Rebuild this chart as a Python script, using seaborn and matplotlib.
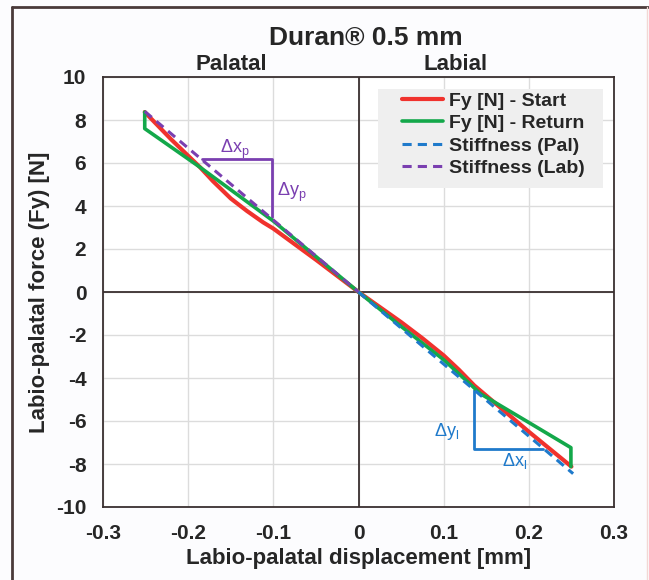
import numpy as np
import pandas as pd
import seaborn as sns
import matplotlib
matplotlib.use("Agg")
import matplotlib.pyplot as plt
from matplotlib.lines import Line2D
from matplotlib.patches import Rectangle

# ---- data ----
start_x = [-0.251, -0.22, -0.186, -0.171, -0.15, -0.131, -0.112, -0.1, -0.05, 0.0,
           0.05, 0.075, 0.1, 0.118, 0.136, 0.2, 0.25]
start_y = [8.37, 7.1, 5.8, 5.16, 4.35, 3.77, 3.24, 2.95, 1.5, 0.0,
           -1.4, -2.15, -2.95, -3.62, -4.35, -6.5, -8.12]

return_x = [-0.251, -0.251, -0.186, -0.1, -0.05, 0.0, 0.05, 0.1, 0.1435, 0.2, 0.2494, 0.2494]
return_y = [8.37, 7.6, 5.8, 3.3, 1.65, 0.0, -1.6, -3.15, -4.74, -6.07, -7.24, -8.12]

pal_x = [0.0, 0.252]
pal_y = [0.0, -8.45]
lab_x = [-0.251, 0.0]
lab_y = [8.4, 0.0]

# annotation triangles
tri_p_x = [-0.184, -0.102, -0.102]
tri_p_y = [6.2, 6.2, 3.5]
tri_l_x = [0.136, 0.136, 0.217]
tri_l_y = [-4.58, -7.32, -7.32]

x_ticks = [-0.3, -0.2, -0.1, 0, 0.1, 0.2, 0.3]
x_ticklabels = ["-0.3", "-0.2", "-0.1", "0", "0.1", "0.2", "0.3"]
y_ticks = [-10, -8, -6, -4, -2, 0, 2, 4, 6, 8, 10]
y_ticklabels = ["-10", "-8", "-6", "-4", "-2", "0", "2", "4", "6", "8", "10"]

RED = "#f0322d"
GREEN = "#13a84a"
BLUE = "#1f7acb"
PURPLE = "#7a3fb0"

sns.set_theme(style="white")
plt.rcParams["font.family"] = ["Liberation Sans", "DejaVu Sans"]
plt.rcParams["axes.unicode_minus"] = False
plt.rcParams["mathtext.fontset"] = "custom"
plt.rcParams["mathtext.rm"] = "Liberation Sans"

fig = plt.figure(figsize=(6.49, 5.8), dpi=100, facecolor="#fcfcfe")
ax = fig.add_axes([103/649, 1-507/580, (614-103)/649, (507-77)/580])
ax.set_facecolor("white")

df_s = pd.DataFrame({"x": start_x, "y": start_y})
df_r = pd.DataFrame({"x": return_x, "y": return_y})
df_p = pd.DataFrame({"x": pal_x, "y": pal_y})
df_l = pd.DataFrame({"x": lab_x, "y": lab_y})

sns.lineplot(data=df_s, x="x", y="y", sort=False, estimator=None, color=RED, lw=3.0,
             label="Fy [N] - Start", ax=ax, zorder=4)
sns.lineplot(data=df_r, x="x", y="y", sort=False, estimator=None, color=GREEN, lw=2.6,
             label="Fy [N] - Return", ax=ax, zorder=5)
sns.lineplot(data=df_p, x="x", y="y", sort=False, estimator=None, color=BLUE, lw=2.2,
             ls=(0, (3, 2)), label="Stiffness (Pal)", ax=ax, zorder=6)
sns.lineplot(data=df_l, x="x", y="y", sort=False, estimator=None, color=PURPLE, lw=2.2,
             ls=(0, (3, 2)), label="Stiffness (Lab)", ax=ax, zorder=6)

ax.plot(tri_p_x, tri_p_y, color=PURPLE, lw=2.0, zorder=3)
ax.plot(tri_l_x, tri_l_y, color=BLUE, lw=2.0, zorder=3)
ax.text(-0.145, 6.63, r"Δx$_\mathrm{p}$", color=PURPLE, fontsize=13,
        fontweight="normal", ha="center", va="center")
ax.text(-0.078, 4.62, r"Δy$_\mathrm{p}$", color=PURPLE, fontsize=13,
        fontweight="normal", ha="center", va="center")
ax.text(0.104, -6.5, r"Δy$_\mathrm{l}$", color=BLUE, fontsize=13,
        fontweight="normal", ha="center", va="center")
ax.text(0.183, -7.88, r"Δx$_\mathrm{l}$", color=BLUE, fontsize=13,
        fontweight="normal", ha="center", va="center")

ax.set_xlim(-0.3, 0.3)
ax.set_ylim(-10, 10)
ax.set_xticks(x_ticks)
ax.set_xticklabels(x_ticklabels)
ax.set_yticks(y_ticks)
ax.set_yticklabels(y_ticklabels)
ax.tick_params(axis="both", length=0, pad=12, labelsize=15)
for lab in ax.get_xticklabels() + ax.get_yticklabels():
    lab.set_fontweight("bold")
ax.grid(True, color="#dcdcdc", lw=1.0, zorder=0)
ax.set_axisbelow(True)
ax.axhline(0, color="#3a3030", lw=1.3, zorder=2)
ax.axvline(0, color="#3a3030", lw=1.3, zorder=2)
for s in ax.spines.values():
    s.set_color("#3a3030")
    s.set_linewidth(1.3)
    s.set_visible(True)

ax.set_xlabel("Labio-palatal displacement [mm]", fontsize=16, fontweight="bold", labelpad=4)
ax.set_ylabel("Labio-palatal force (Fy) [N]", fontsize=16, fontweight="bold", labelpad=4)

ax.text(0.252, 1.03, "Palatal", transform=ax.transAxes, ha="center", va="center",
        fontsize=16, fontweight="bold")
ax.text(0.689, 1.03, "Labial", transform=ax.transAxes, ha="center", va="center",
        fontsize=16, fontweight="bold")
fig.text(365.5/649, 1-38/580, "Duran® 0.5 mm", ha="center", va="center",
         fontsize=19, fontweight="bold")

# legend background panel
ax.add_patch(Rectangle(((378-103)/511, (507-188)/430), (603-378)/511, (188-89)/430,
                       transform=ax.transAxes, facecolor="#efefef", edgecolor="none",
                       zorder=7))
leg = ax.legend(loc="upper left", bbox_to_anchor=((402-103)/511, (507-92)/430),
                fontsize=14, frameon=False, borderaxespad=0, borderpad=0,
                handlelength=2.1, handletextpad=0.3, labelspacing=0.25)
leg.set_zorder(8)
for t in leg.get_texts():
    t.set_fontweight("bold")

# figure frame
fig.add_artist(Line2D([12/649, 12/649], [0, 1-7/580], transform=fig.transFigure,
                      color="#4a3a3a", lw=2))
fig.add_artist(Line2D([12/649, 648/649], [1-7/580, 1-7/580], transform=fig.transFigure,
                      color="#4a3a3a", lw=2))
fig.add_artist(Line2D([647/649, 647/649], [0, 1-7/580], transform=fig.transFigure,
                      color="#f2d8d4", lw=1))

fig.savefig("out.png", dpi=100, facecolor=fig.get_facecolor())
